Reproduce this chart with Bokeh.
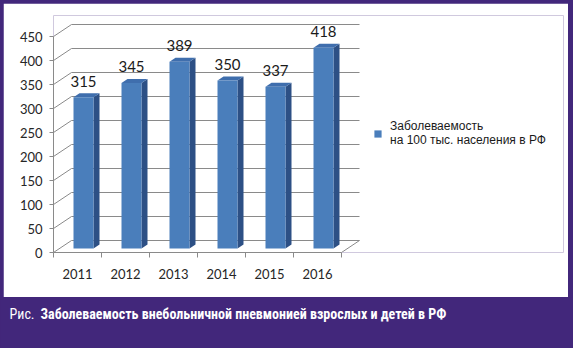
from bokeh.plotting import figure
from bokeh.models import Range1d, LinearAxis, FixedTicker, Legend, LegendItem, Label
from bokeh.layouts import column, row
from bokeh.embed import file_html
from bokeh.resources import INLINE
from bokeh.core.properties import value

# ---- data ----
years = ["2011", "2012", "2013", "2014", "2015", "2016"]
incidence = [315, 345, 389, 350, 337, 418]
y_ticks = [0, 50, 100, 150, 200, 250, 300, 350, 400, 450]
legend_label = "Заболеваемость\nна 100 тыс. населения в РФ"
caption_prefix = "Рис."
caption_title = "Заболеваемость внебольничной пневмонией взрослых и детей в РФ"

# ---- style / geometry ----
PURPLE = "#42277b"
GRID = "#8a8a8a"
FRONT = "#4a7ebb"
SIDE = "#2d5085"
TOP = "#3f6ead"
CAP_FONT = "'Roboto Condensed', 'DejaVu Sans Condensed', 'Liberation Sans Narrow', 'Liberation Sans'"
PX_X = 48.0      # px per category
PX_Y = 0.48      # px per unit
DX = 18 / PX_X   # depth offset (x)
DY = 12 / PX_Y   # depth offset (y)
BAR_W = 20 / PX_X
bx0, by0 = DX / 3, DY / 3      # bar front face depth
bdx, bdy = DX / 3, DY / 3      # bar depth

n = len(years)
idx = list(range(n))

p = figure(width=565, height=294,
           x_range=Range1d(-0.5, -0.5 + 510 / PX_X),
           y_range=Range1d(0, 237 / PX_Y),
           output_backend="svg", toolbar_location=None,
           x_axis_type=None, y_axis_type=None,
           min_border_left=50, min_border_right=5,
           min_border_top=12, min_border_bottom=45)
p.outline_line_color = None
p.background_fill_color = "white"
p.border_fill_color = "white"
p.margin = (3, 5, 0, 3)

# back wall gridlines and side wall lines
p.multi_line(xs=[[-0.5 + DX, n - 0.5 + DX] for t in y_ticks],
             ys=[[t + DY, t + DY] for t in y_ticks], line_color=GRID, line_width=1)
p.multi_line(xs=[[-0.5, -0.5 + DX] for t in y_ticks],
             ys=[[t, t + DY] for t in y_ticks], line_color=GRID, line_width=1)
# floor right edge
p.line(x=[n - 0.5, n - 0.5 + DX], y=[0, DY], line_color=GRID, line_width=1)

# bars
cx = [i + bx0 for i in idx]
xl = [c - BAR_W / 2 for c in cx]
xr = [c + BAR_W / 2 for c in cx]
tops = [v + by0 for v in incidence]
side_xs = [[r, r, r + bdx, r + bdx] for r in xr]
side_ys = [[by0, t, t + bdy, by0 + bdy] for t in tops]
top_xs = [[l, r, r + bdx, l + bdx] for l, r in zip(xl, xr)]
top_ys = [[t, t, t + bdy, t + bdy] for t in tops]
p.patches(xs=side_xs, ys=side_ys, fill_color=SIDE, line_color=None)
p.patches(xs=top_xs, ys=top_ys, fill_color=TOP, line_color=None)
front = p.vbar(x=cx, width=BAR_W, bottom=by0, top=tops, fill_color=FRONT, line_color=None)

# data labels
p.text(x=idx, y=[t + bdy for t in tops], text=[str(v) for v in incidence],
       x_offset=6, y_offset=-12,
       text_align="center", text_baseline="alphabetic",
       text_font=value("Lato"), text_font_size="15px", text_color="#1a1a1a")

# y axis
yaxis = LinearAxis(ticker=FixedTicker(ticks=y_ticks), bounds=(0, 450),
                   major_tick_out=4, major_tick_in=0, minor_tick_out=0, minor_tick_in=0,
                   axis_line_color=GRID, major_tick_line_color=GRID,
                   major_label_text_font="Lato", major_label_text_font_size="13px",
                   major_label_text_color="#262626", major_label_standoff=7)
p.add_layout(yaxis, "left")

# x axis
xaxis = LinearAxis(ticker=FixedTicker(ticks=idx, minor_ticks=[i - 0.5 for i in range(n + 1)]),
                   bounds=(-0.5, n - 0.5),
                   major_label_overrides={i: y for i, y in zip(idx, years)},
                   major_tick_line_color=None, major_tick_out=0, major_tick_in=0,
                   minor_tick_out=5, minor_tick_in=0, minor_tick_line_color=GRID,
                   axis_line_color=GRID,
                   major_label_text_font="Lato", major_label_text_font_size="13px",
                   major_label_text_color="#262626", major_label_standoff=11)
p.add_layout(xaxis, "below")

legend = Legend(items=[LegendItem(label=legend_label, renderers=[front])],
                location=(320, 105), border_line_color=None, background_fill_alpha=0,
                padding=0, margin=0, glyph_width=9, glyph_height=9, label_standoff=8,
                label_text_font="Liberation Sans", label_text_font_size="12px",
                label_text_color="#1a1a1a", label_text_line_height=1.3)
p.add_layout(legend)

# caption
cap = figure(width=573, height=51, x_range=Range1d(0, 573), y_range=Range1d(0, 51),
             output_backend="svg", toolbar_location=None, min_border=0,
             x_axis_type=None, y_axis_type=None)
cap.outline_line_color = None
cap.background_fill_color = PURPLE
cap.border_fill_color = PURPLE
cap.add_layout(Label(x=9, y=35, text=caption_prefix, text_font=CAP_FONT,
                     text_font_size="14px", text_color="white", text_baseline="middle"))
cap.add_layout(Label(x=40, y=35, text=caption_title, text_font=CAP_FONT,
                     text_font_size="14px", text_font_style="bold", text_color="white",
                     text_baseline="middle"))

layout = column(row(p), row(cap), styles={"background-color": PURPLE})
open("out.html", "w").write(file_html(layout, INLINE))
